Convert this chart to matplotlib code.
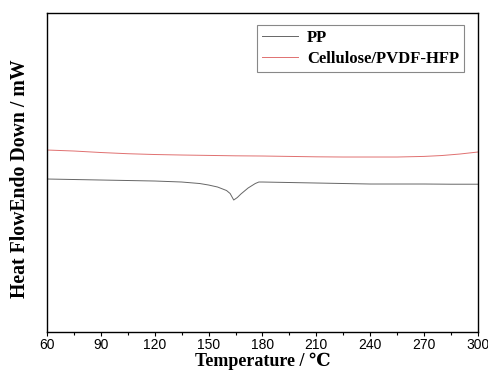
import matplotlib
matplotlib.use("Agg")
import matplotlib.pyplot as plt
from matplotlib.ticker import MultipleLocator

# temperature (°C) and heat flow (arbitrary units)
pp_t = [60, 75, 90, 105, 120, 135, 145, 150, 155, 160, 162, 164, 166, 168, 172, 176, 178, 180, 195, 210, 225, 240, 255, 270, 285, 300]
pp_hf = [153, 152.5, 152, 151.5, 151, 150, 148.5, 147, 145, 141.5, 138.5, 132, 134.5, 138, 144, 148.5, 150, 150, 149.5, 149, 148.5, 148, 148, 148, 147.8, 147.8]

cell_t = [60, 75, 90, 105, 120, 135, 150, 165, 180, 195, 210, 225, 240, 255, 270, 280, 290, 300]
cell_hf = [182, 181, 179.5, 178.3, 177.5, 177, 176.6, 176.2, 176, 175.6, 175.2, 175, 175, 175, 175.6, 176.5, 178, 180]

serif = ["Liberation Serif", "DejaVu Serif", "Noto Sans CJK SC"]
plt.rcParams["font.family"] = ["Liberation Sans", "DejaVu Sans"]

fig = plt.figure(figsize=(4.88, 3.72), dpi=100)
ax = fig.add_axes([0.0963, 0.1075, 0.883, 0.8575])
ax.plot(pp_t, pp_hf, color="#666666", lw=0.7, label="PP")
ax.plot(cell_t, cell_hf, color="#e07070", lw=0.7, label="Cellulose/PVDF-HFP")

ax.set_xlim(60, 300)
ax.set_ylim(0, 319)
ax.xaxis.set_major_locator(MultipleLocator(30))
ax.xaxis.set_minor_locator(MultipleLocator(15))
ax.set_yticks([])
ax.tick_params(axis="x", which="major", length=3, width=0.8, labelsize=10, pad=1.5)
ax.tick_params(axis="x", which="minor", length=2, width=0.8)
for s in ax.spines.values():
    s.set_linewidth(1.0)

ax.set_xlabel("Temperature / ℃", family=serif, fontweight="bold", fontsize=13, va="top")
ax.xaxis.set_label_coords(0.5, -0.065)
ax.set_ylabel("Heat FlowEndo Down / mW", family=serif, fontweight="bold", fontsize=14.2)
ax.yaxis.set_label_coords(-0.04, 0.48)

leg = ax.legend(loc="upper right", bbox_to_anchor=(0.9675, 0.962), prop={"family": serif, "weight": "bold", "size": 12},
                fancybox=False, framealpha=1, edgecolor="#888888", handlelength=2.2, borderpad=0.3,
                labelspacing=0.3, handletextpad=0.5, borderaxespad=0)
leg.get_frame().set_linewidth(0.8)

fig.savefig("out.png", dpi=100)
